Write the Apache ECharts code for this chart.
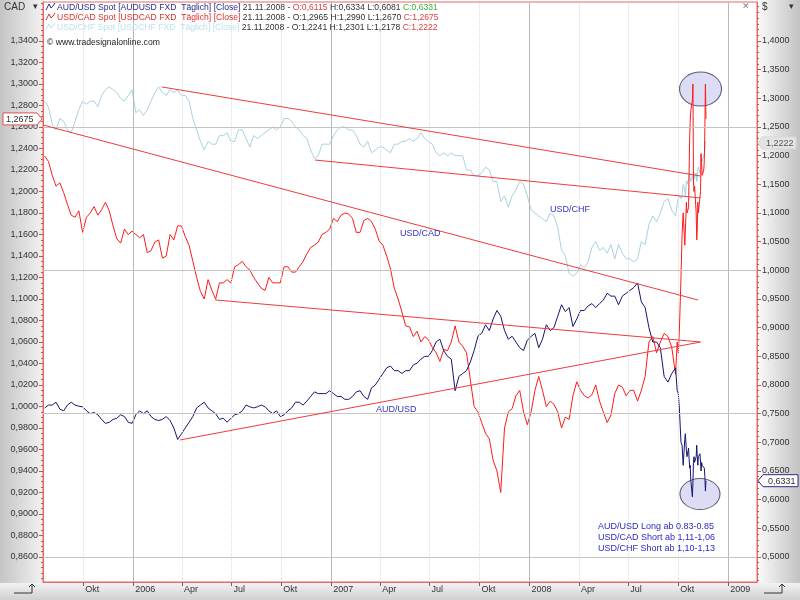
<!DOCTYPE html>
<html><head><meta charset="utf-8">
<script src="https://cdn.jsdelivr.net/npm/echarts@6/dist/echarts.min.js"></script>
<style>
html,body{margin:0;padding:0;background:#fff;}
#c{width:800px;height:600px;position:relative;
background:
 linear-gradient(to right,#c4c4c4,#f2f2f2) 0 0/43px 583px no-repeat,
 linear-gradient(to right,#fbfbfb,#c2c2c2) 757px 0/43px 583px no-repeat,
 linear-gradient(to bottom,#f2f2f2,#d0d0d0) 0 583px/800px 17px no-repeat, #fff;}
</style></head><body><div id="c"></div>
<script>
const DAY = 864e5;
function utc(s){const p=s.split('-');return Date.UTC(+p[0],+p[1]-1,+p[2]);}
function weekly(start, vals){const t0=utc(start);return vals.map((v,i)=>[t0+i*7*DAY, v]);}

// ---- x axis ticks ----
const xTickDates = ['2005-10-01','2006-01-01','2006-04-01','2006-07-01','2006-10-01','2007-01-01','2007-04-01','2007-07-01','2007-10-01','2008-01-01','2008-04-01','2008-07-01','2008-10-01','2009-01-01'];
const xTickLabels = ['Okt','2006','Apr','Jul','Okt','2007','Apr','Jul','Okt','2008','Apr','Jul','Okt','2009'];
// ---- y axis tick labels ----
const cadTicks = [0.86,0.88,0.90,0.92,0.94,0.96,0.98,1.00,1.02,1.04,1.06,1.08,1.10,1.12,1.14,1.16,1.18,1.20,1.22,1.24,1.26,1.28,1.30,1.32,1.34];
const usdTicks = [0.50,0.55,0.60,0.65,0.70,0.75,0.80,0.85,0.90,0.95,1.00,1.05,1.10,1.15,1.20,1.25,1.30,1.35,1.40];
const usdMajorGrid = [0.50,0.75,1.00,1.25];

// ---- USD/CAD weekly (Fridays) ----
const cad2005 = [1.2330,1.2280,1.2150,1.2050,1.2080,1.1990,1.1880,1.1780,1.1760,1.1820,1.1620,1.1760,1.1800,1.1860,1.1780,1.1830,1.1900,1.1820,1.1680,1.1560,1.1520,1.1650,1.1600,1.1630];
const cad2006 = [1.1600,1.1570,1.1600,1.1430, 1.1450,1.1530,1.1550,1.1380, 1.1400,1.1600,1.1550,1.1680,1.1680, 1.1580,1.1500,1.1350,1.1200, 1.1070,1.1000,1.1180,1.1080, 1.1000,1.1150,1.1150,1.1180,1.1150, 1.1300,1.1320,1.1350,1.1300, 1.1270,1.1200,1.1150,1.1100, 1.1080,1.1200,1.1150,1.1150,1.1150, 1.1300,1.1300,1.1250,1.1250, 1.1300,1.1350,1.1420,1.1480, 1.1500,1.1530,1.1600,1.1620,1.1650];
const cad2007 = [1.1750,1.1720,1.1780,1.1800, 1.1790,1.1750,1.1620,1.1620, 1.1730,1.1750,1.1720,1.1650,1.1540, 1.1500,1.1400,1.1280,1.1100, 1.1000,1.0880,1.0750,1.0740, 1.0650,1.0700,1.0600,1.0650,1.0620, 1.0550,1.0500,1.0420,1.0530, 1.0520,1.0600,1.0750,1.0600,1.0560, 1.0500,1.0250,1.0000,0.9950, 0.9850,0.9750,0.9700,0.9500, 0.9400,0.9200,0.9800,0.9950,0.9980, 1.0100,1.0150,0.9950,0.9830];
const cad2008 = [0.9950,1.0150,1.0280,1.0150, 1.0000,1.0050,1.0020,0.9950,0.9800, 0.9900,0.9880,1.0100,1.0230, 1.0150,1.0100,1.0080,1.0110, 1.0200,1.0050,0.9950,0.9850,0.9920, 1.0120,1.0200,1.0180,1.0100, 1.0150,1.0150,1.0050,1.0150, 1.0280,1.0600,1.0650,1.0500,1.0600, 1.0680,1.0650,1.0550,1.0300];
// ---- AUD/USD weekly ----
const aud2005 = [0.7600,0.7650,0.7650,0.7700,0.7580,0.7550,0.7650,0.7700,0.7650,0.7630,0.7620,0.7550,0.7500,0.7520,0.7480,0.7400,0.7330,0.7350,0.7400,0.7420,0.7480,0.7450,0.7350,0.7330];
const aud2006 = [0.7480,0.7550,0.7500,0.7550, 0.7450,0.7400,0.7380,0.7400, 0.7450,0.7380,0.7250,0.7050,0.7150, 0.7250,0.7350,0.7450,0.7600, 0.7650,0.7700,0.7600,0.7550, 0.7500,0.7400,0.7420,0.7350,0.7420, 0.7480,0.7500,0.7550,0.7650, 0.7620,0.7600,0.7620,0.7650, 0.7620,0.7550,0.7500,0.7550,0.7450, 0.7480,0.7550,0.7600,0.7700, 0.7700,0.7650,0.7720,0.7800, 0.7880,0.7850,0.7850,0.7850,0.7900];
const aud2007 = [0.7850,0.7800,0.7800,0.7750, 0.7750,0.7800,0.7880,0.7900, 0.7800,0.7750,0.7950,0.8000,0.8100, 0.8200,0.8300,0.8330,0.8250, 0.8250,0.8200,0.8250,0.8250, 0.8350,0.8380,0.8450,0.8500,0.8500, 0.8600,0.8750,0.8800,0.8600, 0.8500,0.8450,0.7900,0.8150,0.8200, 0.8250,0.8400,0.8600,0.8850, 0.8900,0.9050,0.8950,0.9150, 0.9300,0.9200,0.8950,0.8800,0.8850, 0.8750,0.8650,0.8600,0.8780];
const aud2008 = [0.8850,0.8900,0.8650,0.8800, 0.9050,0.8950,0.9000,0.9200,0.9400, 0.9280,0.9350,0.9020,0.9150, 0.9300,0.9300,0.9380,0.9420, 0.9350,0.9420,0.9480,0.9600,0.9550, 0.9550,0.9400,0.9550,0.9600, 0.9650,0.9700,0.9780,0.9450, 0.9350,0.9000,0.8750,0.8750,0.8650, 0.8150,0.8050,0.8200,0.8300];
// ---- USD/CHF weekly ----
const chf2005 = [1.2950,1.2850,1.2550,1.2450,1.2650,1.2600,1.2450,1.2400,1.2600,1.2800,1.2950,1.2900,1.2950,1.2950,1.2850,1.3050,1.3150,1.3200,1.3150,1.3100,1.3000,1.2950,1.3050,1.3150];
const chf2006 = [1.2750,1.2800,1.2700,1.2800, 1.2950,1.3100,1.3200,1.3100, 1.3050,1.3150,1.3100,1.3150,1.3050, 1.3050,1.2950,1.2650,1.2450, 1.2250,1.2100,1.2250,1.2200, 1.2200,1.2350,1.2350,1.2400,1.2250, 1.2250,1.2450,1.2450,1.2300, 1.2150,1.2350,1.2300,1.2350, 1.2400,1.2450,1.2500,1.2450,1.2500, 1.2650,1.2650,1.2600,1.2500, 1.2450,1.2350,1.2300,1.2100, 1.1950,1.2000,1.2200,1.2200,1.2200];
const chf2007 = [1.2350,1.2450,1.2500,1.2500, 1.2450,1.2450,1.2350,1.2200, 1.2150,1.2250,1.2050,1.2100,1.2150, 1.2150,1.2100,1.2050,1.2200, 1.2200,1.2250,1.2250,1.2300, 1.2250,1.2300,1.2400,1.2300,1.2250, 1.2200,1.2050,1.2000,1.2050, 1.2000,1.2050,1.2000,1.2000,1.2000, 1.1750,1.1750,1.1650,1.1650, 1.1700,1.1800,1.1750,1.1550, 1.1550,1.1200,1.1300,1.1100,1.1300, 1.1400,1.1550,1.1500,1.1300];
const chf2008 = [1.1050,1.1000,1.0950,1.0900, 1.0850,1.1000,1.0950,1.0750,1.0350, 1.0250,0.9950,0.9900,0.9950, 1.0100,1.0050,1.0150,1.0400, 1.0500,1.0350,1.0400,1.0300,1.0450, 1.0200,1.0450,1.0300,1.0200, 1.0200,1.0150,1.0200,1.0500, 1.0450,1.0800,1.0950,1.0850,1.1000, 1.1200,1.1250,1.1050,1.0950];
// ---- daily, Sep 29 - Nov 21 2008 ----
const lateDates = ['2008-09-29','2008-10-01','2008-10-03','2008-10-06','2008-10-08','2008-10-10','2008-10-13','2008-10-14','2008-10-16','2008-10-17','2008-10-20','2008-10-21','2008-10-22','2008-10-23','2008-10-24','2008-10-27','2008-10-28','2008-10-29','2008-10-30','2008-10-31','2008-11-03','2008-11-04','2008-11-05','2008-11-06','2008-11-07','2008-11-10','2008-11-11','2008-11-12','2008-11-13','2008-11-14','2008-11-17','2008-11-18','2008-11-19','2008-11-20','2008-11-21'];
const cadLate = [1.0600,1.0500,1.0700,1.1200,1.1600,1.1800,1.1500,1.1500,1.1900,1.1800, 1.1850,1.2200,1.2500,1.2650,1.2750,1.2850,1.3000,1.2100,1.2000,1.2050, 1.1800,1.1550,1.1650,1.1900,1.1800,1.1800,1.2000,1.2350,1.2250,1.2150, 1.2200,1.2300,1.2600,1.3000,1.2675];
const audLate = [0.7900,0.7850,0.7600,0.7000,0.6950,0.6600,0.7050,0.7150,0.6850,0.6750, 0.6900,0.6700,0.6550,0.6600,0.6350,0.6050,0.6300,0.6650,0.6750,0.6650, 0.6750,0.6950,0.6750,0.6600,0.6750,0.6800,0.6650,0.6500,0.6650,0.6600, 0.6600,0.6550,0.6400,0.6150,0.6331];
const chfLate = [1.1150,1.1250,1.1300,1.1250,1.1300,1.1500,1.1400,1.1300,1.1550,1.1500, 1.1600,1.1650,1.1700,1.1600,1.1550,1.1650,1.1600,1.1500,1.1700,1.1600, 1.1700,1.1550,1.1600,1.1750,1.1800,1.1700,1.1900,1.2050,1.1950,1.1900, 1.2000,1.2050,1.2100,1.2250,1.2222];

// ---- trend lines drawn by the chart author ----
const trendChfUpper = [['2006-02-23',1.3198],['2008-11-11',1.1645]];
const trendChfLower = [['2006-12-02',1.1924],['2008-11-11',1.1262]];
const trendCadUpper = [['2005-07-19',1.2619],['2008-11-06',1.0991]];
const trendCadLower = [['2006-06-01',1.0991],['2008-11-11',1.0600]];
const trendAud      = [['2006-03-28',0.7040],['2008-11-11',0.8750]];
const ellipseCad = [['2008-11-11',1.2953]];
const ellipseAud = [['2008-11-10',0.6099]];

function late(vals){return vals.map((v,i)=>[utc(lateDates[i]),v]);}
function build(a,b,c,d,e){return [].concat(weekly('2005-07-22',a),weekly('2006-01-06',b),weekly('2007-01-05',c),weekly('2008-01-04',d),late(e));}
const cadData = build(cad2005,cad2006,cad2007,cad2008,cadLate);
const audData = build(aud2005,aud2006,aud2007,aud2008,audLate);
const chfData = build(chf2005,chf2006,chf2007,chf2008,chfLate);
const toPts = arr => arr.map(p=>[utc(p[0]),p[1]]);

const FONT = 'Liberation Sans, Arial, sans-serif';
const LF = 8.6;
const xTicks = xTickDates.map(utc);
const fmt = v => v.toFixed(4).replace('.',',');
const cadMinor=[]; for(let v=0.840;v<=1.3751;v+=0.005) cadMinor.push(+v.toFixed(3));
const usdMinor=[]; for(let v=0.46;v<=1.4601;v+=0.01) usdMinor.push(+v.toFixed(2));

const gridLines = [];
xTicks.forEach((t,i)=>{
  const yr = /^\d{4}$/.test(xTickLabels[i]);
  gridLines.push({xAxis:t, lineStyle:{color: yr?'#b8b8b8':'#dcdcdc', type: yr?'solid':'dotted', width:1}});
});
usdMajorGrid.forEach(v=>gridLines.push({yAxis:v, lineStyle:{color:'#c4c4c4', type:'solid', width:1}}));

const lineS = (name,data,yi,color,z)=>({name,type:'line',data,yAxisIndex:yi,symbol:'none',showSymbol:false,lineStyle:{color,width:1},itemStyle:{color},z,silent:true,animation:false});

const chart = echarts.init(document.getElementById('c'),null,{renderer:'canvas'});
const option = {
  animation:false,
  backgroundColor:'transparent',
  grid:{left:43,right:43,top:2,bottom:18,show:true,backgroundColor:'#fff',borderColor:'#e46a6a',borderWidth:1,containLabel:false,outerBoundsMode:'none'},
  xAxis:{type:'value',min:utc('2005-07-19'),max:utc('2009-02-23'),
    axisLine:{show:true,lineStyle:{color:'#e46a6a'}},
    axisTick:{show:true,customValues:xTicks,length:4,lineStyle:{color:'#666'}},
    axisLabel:{customValues:xTicks,formatter:v=>{const i=xTicks.findIndex(t=>Math.abs(t-v)<DAY);return i>=0?xTickLabels[i]:'';},
      align:'left',padding:[0,0,0,2],margin:3,fontSize:9,fontFamily:FONT,color:'#333'},
    splitLine:{show:false}},
  yAxis:[
    {type:'value',position:'left',min:0.83674,max:1.37628,
      axisLine:{show:true,lineStyle:{color:'#e46a6a'}},
      axisTick:{show:true,customValues:cadTicks,length:4,lineStyle:{color:'#d05050'}},
      axisLabel:{customValues:cadTicks,formatter:fmt,fontSize:9,fontFamily:FONT,color:'#333',margin:5},
      splitLine:{show:false}},
    {type:'value',position:'right',min:0.4564,max:1.46802,
      axisLine:{show:true,lineStyle:{color:'#e46a6a'}},
      axisTick:{show:true,customValues:usdTicks,length:4,lineStyle:{color:'#d05050'}},
      axisLabel:{customValues:usdTicks,formatter:fmt,fontSize:9,fontFamily:FONT,color:'#333',margin:5},
      splitLine:{show:false}},
    {type:'value',position:'left',min:0.83674,max:1.37628,axisLine:{show:false},
      axisTick:{show:true,customValues:cadMinor,length:2,lineStyle:{color:'#d05050'}},axisLabel:{show:false},splitLine:{show:false}},
    {type:'value',position:'right',min:0.4564,max:1.46802,axisLine:{show:false},
      axisTick:{show:true,customValues:usdMinor,length:2,lineStyle:{color:'#d05050'}},axisLabel:{show:false},splitLine:{show:false}}
  ],
  series:[
    {type:'line',data:[],yAxisIndex:1,z:1,silent:true,markLine:{silent:true,symbol:['none','none'],label:{show:false},animation:false,data:gridLines}},
    {type:'scatter',data:toPts(ellipseCad),yAxisIndex:0,symbol:'circle',symbolSize:[42,34],itemStyle:{color:'#d3d3f1',borderColor:'#3a3a58',borderWidth:1},z:1.5,silent:true},
    {type:'scatter',data:toPts(ellipseAud),yAxisIndex:1,symbol:'circle',symbolSize:[40,31],itemStyle:{color:'#d3d3f1',borderColor:'#3a3a58',borderWidth:1},z:1.5,silent:true},
    lineS('USD/CHF',chfData,1,'#a8d2e0',2),
    lineS('USD/CAD',cadData,0,'#ff1a1a',3),
    lineS('AUD/USD',audData,1,'#151570',4),
    lineS('t1',toPts(trendChfUpper),1,'#f03c3c',5),
    lineS('t2',toPts(trendChfLower),1,'#f03c3c',5),
    lineS('t3',toPts(trendCadUpper),0,'#f03c3c',5),
    lineS('t4',toPts(trendCadLower),0,'#f03c3c',5),
    lineS('t5',toPts(trendAud),1,'#f03c3c',5)
  ]
};
chart.setOption(option);

function rich(x,y,segs){
  const r={}; let t='';
  segs.forEach((s,i)=>{r['s'+i]={fill:s[1],fontSize:LF,fontFamily:FONT}; t+='{s'+i+'|'+s[0]+'}';});
  return {type:'text',x,y,z:50,style:{text:t,rich:r,fontSize:LF,fontFamily:FONT,verticalAlign:'middle'}};
}
function txt(x,y,s,color,extra){return Object.assign({type:'text',x,y,z:50,style:{text:s,fill:color,fontSize:9,fontFamily:FONT,verticalAlign:'middle'}},extra||{});}
function icon(x,y,color){return {type:'polyline',z:50,shape:{points:[[x,y+3],[x+3,y-3],[x+5,y+1],[x+7,y-1],[x+9,y-4]]},style:{stroke:color,lineWidth:1,fill:null}};}

const cadLast = cadLate[cadLate.length-1], audLast = audLate[audLate.length-1], chfLast = chfLate[chfLate.length-1];
const yC = chart.convertToPixel({yAxisIndex:0},cadLast);
const yA = chart.convertToPixel({yAxisIndex:1},audLast);
const yH = chart.convertToPixel({yAxisIndex:1},chfLast);

const g = [
  icon(46,7,'#2b2b8c'), icon(46,17,'#e03030'), icon(46,27,'#bfe0ee'),
  rich(57,7.5,[['AUD/USD Spot [AUDUSD FXD  Täglich] [Close]','#2b2b8c'],[' 21.11.2008 - ','#333'],['O:0,6115','#e04040'],[' H:0,6334 L:0,6081 ','#333'],['C:0,6331','#3cb43c']]),
  rich(57,17.5,[['USD/CAD Spot [USDCAD FXD  Täglich] [Close]','#e03030'],[' 21.11.2008 - O:1,2965 H:1,2990 L:1,2670 ','#333'],['C:1,2675','#e04040']]),
  rich(57,27.5,[['USD/CHF Spot [USDCHF FXD  Täglich] [Close]','#bfe0ee'],[' 21.11.2008 - O:1,2241 H:1,2301 L:1,2178 ','#333'],['C:1,2222','#e04040']]),
  txt(47,43,'© www.tradesignalonline.com','#222',{style:{text:'© www.tradesignalonline.com',fill:'#222',fontSize:LF,fontFamily:FONT,verticalAlign:'middle'}}),
  txt(400,234,'USD/CAD','#3434c4'),
  txt(550,210,'USD/CHF','#3434c4'),
  txt(376,410,'AUD/USD','#3434c4'),
  txt(598,527,'AUD/USD Long ab 0.83-0.85','#2a2ac8'),
  txt(598,538,'USD/CAD Short ab 1,11-1,06','#2a2ac8'),
  txt(598,548.5,'USD/CHF Short ab 1,10-1,13','#2a2ac8'),
  txt(4,7,'CAD','#333',{style:{text:'CAD',fill:'#333',fontSize:10,fontFamily:FONT,verticalAlign:'middle'}}),
  txt(33,7,'▾','#333'),
  txt(762,7,'$','#333',{style:{text:'$',fill:'#333',fontSize:10,fontFamily:FONT,verticalAlign:'middle'}}),
  txt(789,7,'▾','#333'),
  txt(742,7,'✕','#888'),
  {type:'polygon',z:60,shape:{points:[[3,yC-6],[37,yC-6],[42,yC],[37,yC+6],[3,yC+6]]},style:{fill:'#fff',stroke:'#e05050',lineWidth:1}},
  txt(6,yC+1,fmt(cadLast),'#333',{z:61}),
  {type:'polygon',z:60,shape:{points:[[758,yH],[762,yH-6],[796,yH-6],[796,yH+6],[762,yH+6]]},style:{fill:'#e4e4e4',stroke:'#d6d6d6',lineWidth:1}},
  txt(766,yH+1,fmt(chfLast),'#555',{z:61}),
  {type:'polygon',z:60,shape:{points:[[758,yA],[763,yA-6],[798,yA-6],[798,yA+6],[763,yA+6]]},style:{fill:'#fff',stroke:'#2a2a8a',lineWidth:1}},
  txt(768,yA+1,fmt(audLast),'#333',{z:61}),
  {type:'polyline',z:50,shape:{points:[[14,593],[32,593],[32,584]]},style:{stroke:'#333',lineWidth:1,fill:null}},
  {type:'polyline',z:50,shape:{points:[[29,587],[32,584],[35,587]]},style:{stroke:'#333',lineWidth:1,fill:null}},
  {type:'polyline',z:50,shape:{points:[[764,593],[782,593],[782,584]]},style:{stroke:'#333',lineWidth:1,fill:null}},
  {type:'polyline',z:50,shape:{points:[[779,587],[782,584],[785,587]]},style:{stroke:'#333',lineWidth:1,fill:null}}
];
chart.setOption({graphic:g});
</script></body></html>
